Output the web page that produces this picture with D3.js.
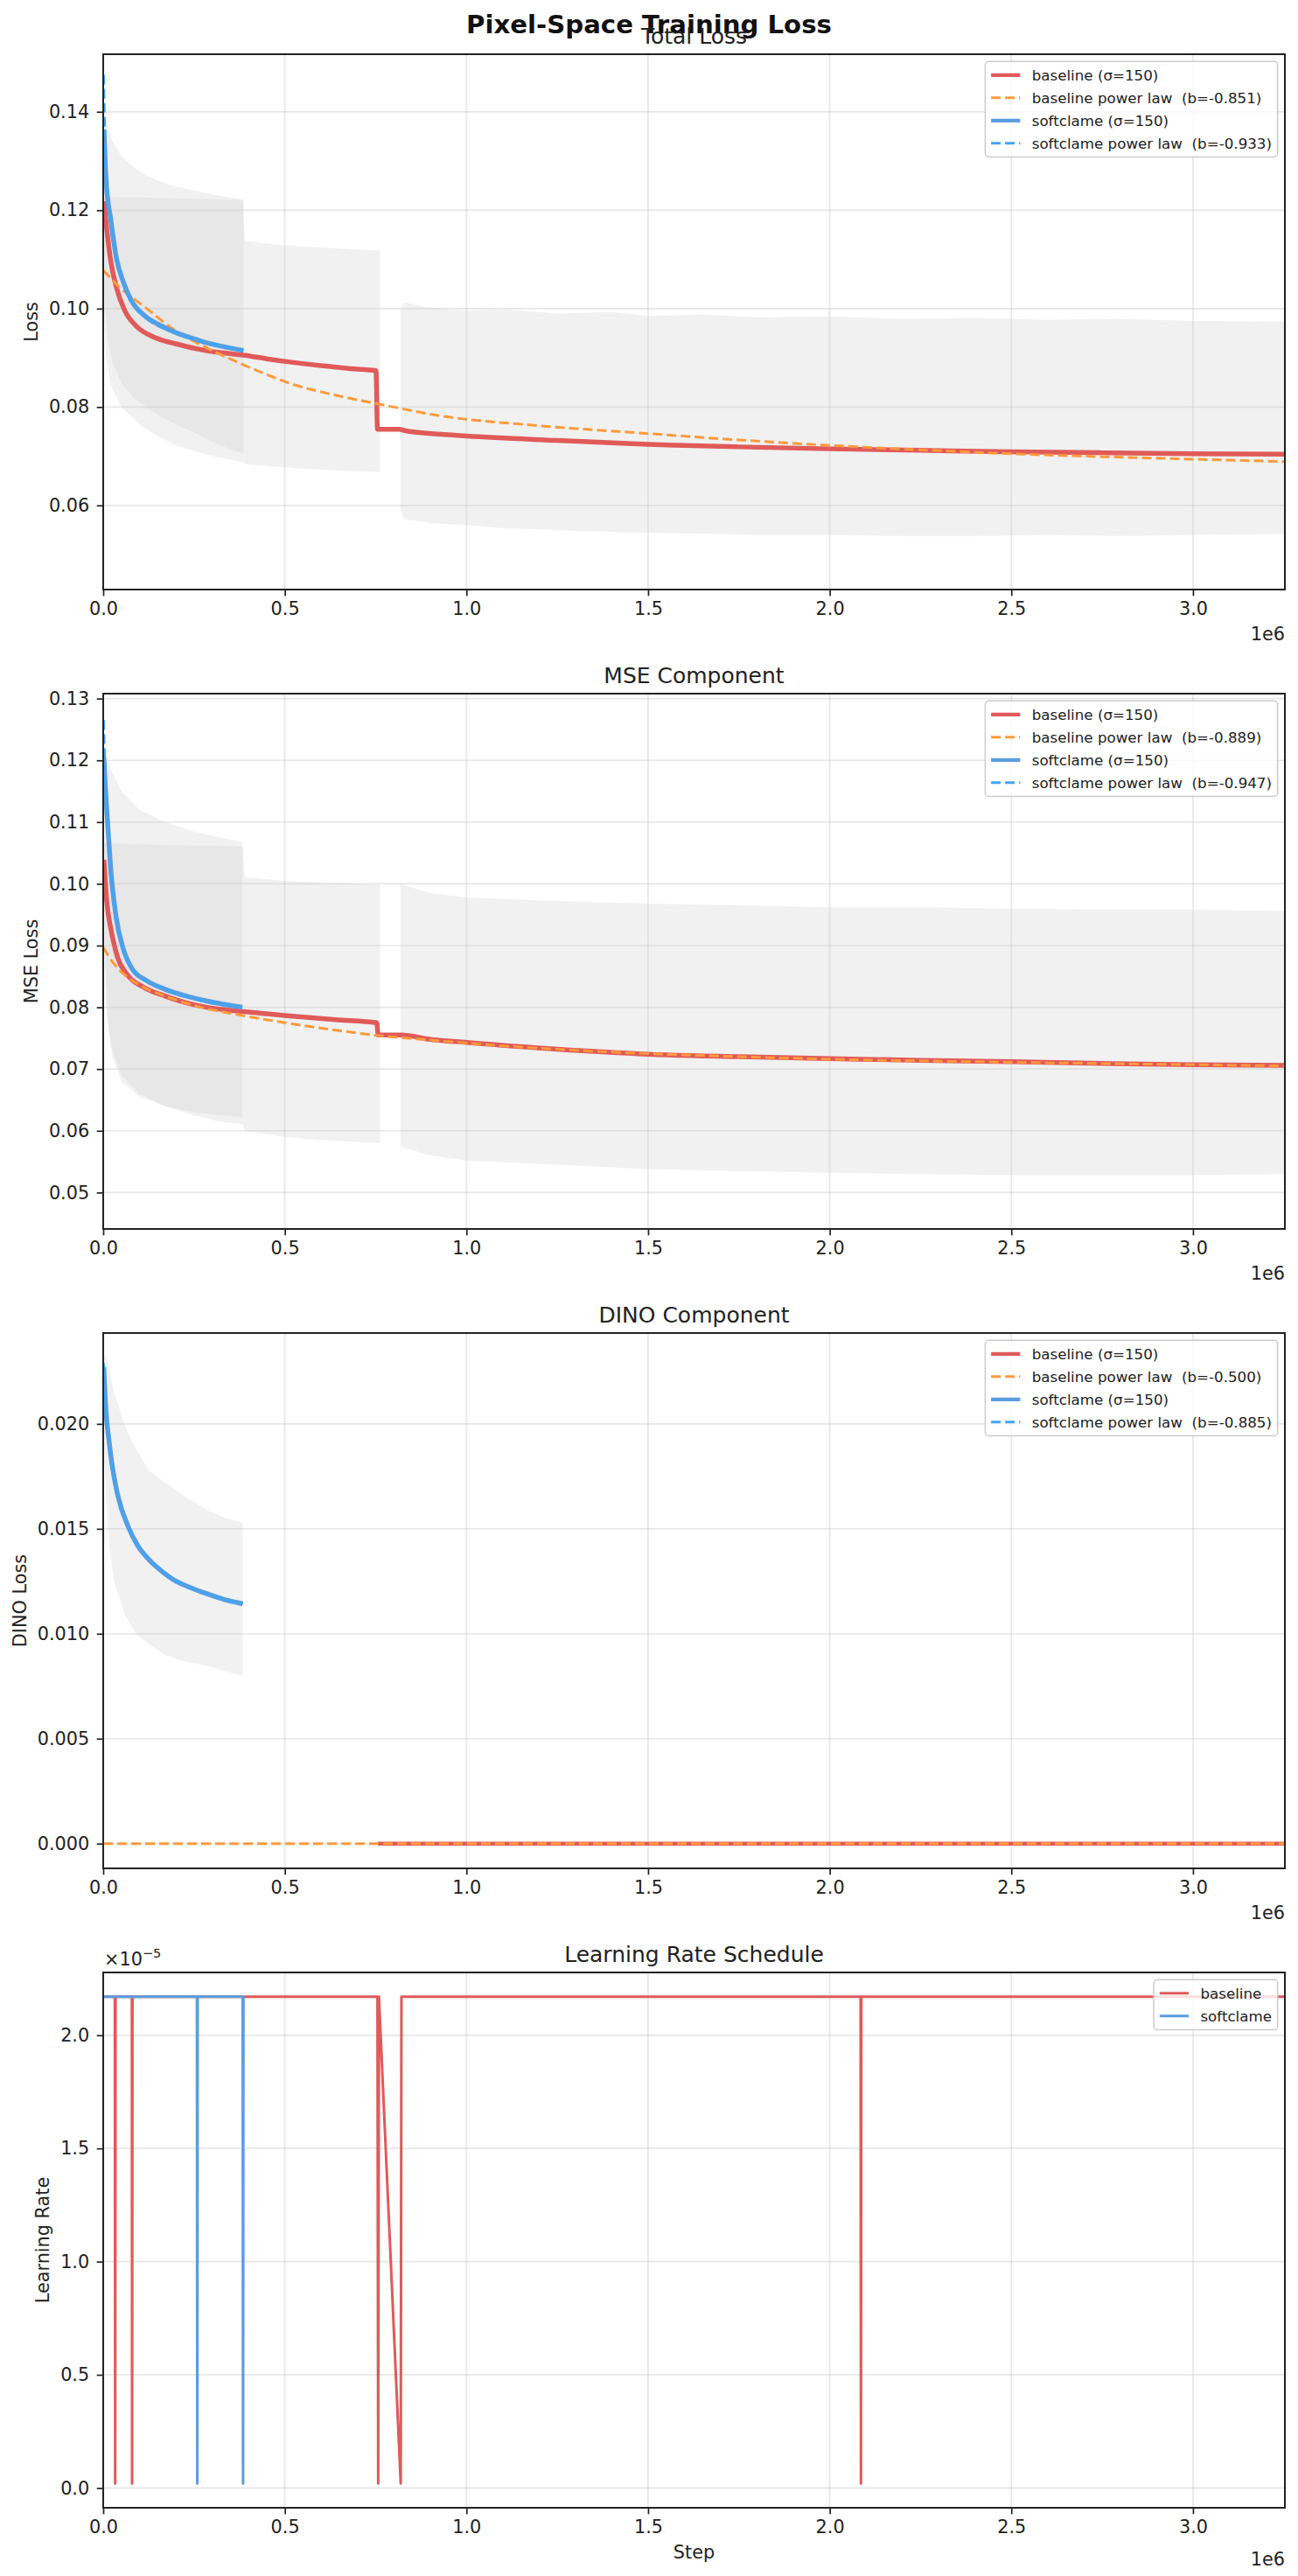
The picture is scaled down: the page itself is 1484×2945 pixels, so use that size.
<!DOCTYPE html>
<html lang="en">
<head>
    <meta charset="UTF-8">
    <title>Pixel-Space Training Loss</title>
    <script src="https://d3js.org/d3.v7.min.js"></script>
    <style>
        body {
            margin: 0;
            background: #fff;
            font-family: "DejaVu Sans", sans-serif;
        }
        .tick text {
            font-size: 20.8px;
            fill: #222;
            font-family: "DejaVu Sans", sans-serif;
        }
        .tick line {
            stroke: #222;
            stroke-width: 1.7px;
        }
        .grid line {
            stroke: #b0b0b0;
            stroke-opacity: 0.3;
            stroke-width: 1.7px;
        }
        .band {
            fill: #cccccc;
            fill-opacity: 0.28;
        }
        .axis-label {
            font-size: 20.8px;
            fill: #222;
        }
        .sub-title {
            font-size: 25px;
            fill: #222;
        }
        .legend text {
            font-size: 16.7px;
            fill: #222;
            white-space: pre;
        }
    </style>
</head>
<body>
    <div id="chart"></div>
    <script>
        // ---- data ----
        var xTickValues = [0, 500000, 1000000, 1500000, 2000000, 2500000, 3000000];
        var xDomain = [0, 3253000];

        var totalYDomain = [0.0429, 0.1517];
        var mseYDomain = [0.0441, 0.1308];
        var dinoYDomain = [-0.00118, 0.02433];
        var lrYDomain = [-0.0875e-5, 2.2775e-5];

        var totalYTicks = [0.06, 0.08, 0.10, 0.12, 0.14];
        var mseYTicks = [0.05, 0.06, 0.07, 0.08, 0.09, 0.10, 0.11, 0.12, 0.13];
        var dinoYTicks = [0, 0.005, 0.010, 0.015, 0.020];
        var lrYTicks = [0, 0.5e-5, 1.0e-5, 1.5e-5, 2.0e-5];

        var totalLegend = ["baseline (σ=150)", "baseline power law  (b=-0.851)", "softclame (σ=150)", "softclame power law  (b=-0.933)"];
        var mseLegend = ["baseline (σ=150)", "baseline power law  (b=-0.889)", "softclame (σ=150)", "softclame power law  (b=-0.947)"];
        var dinoLegend = ["baseline (σ=150)", "baseline power law  (b=-0.500)", "softclame (σ=150)", "softclame power law  (b=-0.885)"];
        var lrLegend = ["baseline", "softclame"];

        // raw-loss bands: [step, low, high]; null marks the logging gap
        var totalBaseBand = [
            [2000, 0.1000, 0.1225], [8000, 0.0900, 0.1228], [20000, 0.0845, 0.1227],
            [50000, 0.0800, 0.1226], [100000, 0.0765, 0.1226], [150000, 0.0740, 0.1225],
            [200000, 0.0722, 0.1224], [260000, 0.0708, 0.1223], [320000, 0.0697, 0.1222],
            [385000, 0.0688, 0.1220], [390000, 0.0684, 0.1138], [450000, 0.0680, 0.1132],
            [550000, 0.0675, 0.1126], [650000, 0.0671, 0.1122], [762000, 0.0668, 0.1118],
            [763000, null, null],
            [818000, 0.0590, 0.1000], [830000, 0.0572, 0.1012], [900000, 0.0564, 0.1002],
            [1000000, 0.0560, 0.0996], [1100000, 0.0554, 0.0999], [1250000, 0.0550, 0.0990],
            [1400000, 0.0546, 0.0993], [1500000, 0.0544, 0.0985], [1650000, 0.0543, 0.0988],
            [1800000, 0.0540, 0.0982], [2000000, 0.0540, 0.0984], [2200000, 0.0538, 0.0979],
            [2400000, 0.0538, 0.0981], [2600000, 0.0540, 0.0977], [2800000, 0.0538, 0.0979],
            [3000000, 0.0540, 0.0975], [3253000, 0.0542, 0.0974]
        ];
        var totalSoftBand = [
            [1000, 0.1180, 0.1395], [5000, 0.1010, 0.1390], [12000, 0.0940, 0.1370],
            [25000, 0.0890, 0.1340], [50000, 0.0850, 0.1310], [80000, 0.0822, 0.1290],
            [120000, 0.0798, 0.1270], [160000, 0.0780, 0.1258], [200000, 0.0765, 0.1248],
            [250000, 0.0748, 0.1240], [300000, 0.0730, 0.1232], [350000, 0.0714, 0.1226],
            [386000, 0.0705, 0.1222]
        ];
        var mseBaseBand = [
            [2000, 0.0900, 0.1065], [8000, 0.0800, 0.1066], [20000, 0.0740, 0.1066],
            [50000, 0.0690, 0.1065], [100000, 0.0660, 0.1064], [170000, 0.0640, 0.1063],
            [250000, 0.0625, 0.1062], [320000, 0.0615, 0.1062], [385000, 0.0610, 0.1060],
            [390000, 0.0600, 0.1010], [500000, 0.0590, 0.1005], [600000, 0.0585, 0.1002],
            [700000, 0.0582, 0.1000], [762000, 0.0580, 0.0998],
            [763000, null, null],
            [818000, 0.0575, 0.1000], [900000, 0.0560, 0.0985], [1000000, 0.0552, 0.0978],
            [1250000, 0.0545, 0.0972], [1500000, 0.0538, 0.0968], [1750000, 0.0535, 0.0965],
            [2000000, 0.0532, 0.0962], [2250000, 0.0530, 0.0962], [2500000, 0.0528, 0.0960],
            [2750000, 0.0528, 0.0958], [3000000, 0.0528, 0.0958], [3253000, 0.0530, 0.0956]
        ];
        var mseSoftBand = [
            [1000, 0.1050, 0.1215], [5000, 0.0900, 0.1215], [12000, 0.0780, 0.1200],
            [25000, 0.0720, 0.1180], [50000, 0.0680, 0.1150], [100000, 0.0655, 0.1120],
            [170000, 0.0640, 0.1100], [250000, 0.0630, 0.1085], [320000, 0.0625, 0.1075],
            [383000, 0.0622, 0.1068]
        ];
        var dinoSoftBand = [
            [1000, 0.0195, 0.0233], [8000, 0.0165, 0.0232], [18000, 0.0140, 0.0225],
            [30000, 0.0125, 0.0215], [60000, 0.0109, 0.0199], [90000, 0.0100, 0.0188],
            [126000, 0.0095, 0.0178], [170000, 0.0090, 0.0172], [220000, 0.0087, 0.0166],
            [286000, 0.00846, 0.0159], [340000, 0.0082, 0.0155], [384000, 0.0080, 0.0153]
        ];

        // smoothed curves: [step, value]
        var totalBaseline = [
            [2000, 0.1218], [10000, 0.1160], [20000, 0.1100], [36000, 0.1044], [60000, 0.0995],
            [93000, 0.0963], [140000, 0.0942], [197000, 0.0929], [280000, 0.0915], [390000, 0.0905],
            [450000, 0.0898], [518000, 0.0891], [600000, 0.0884], [680000, 0.0878], [751000, 0.0874],
            [755000, 0.0755], [815000, 0.0755], [830000, 0.0752], [920000, 0.0745], [1000000, 0.0741],
            [1250000, 0.0732], [1500000, 0.0724], [1750000, 0.0719], [2000000, 0.0715], [2250000, 0.0712],
            [2500000, 0.0709], [2750000, 0.0707], [3000000, 0.0705], [3253000, 0.0704]
        ];
        var totalBaselineFit = [
            [0, 0.1078], [50000, 0.1040], [115000, 0.1003], [197000, 0.0956], [280000, 0.0922],
            [358000, 0.0895], [440000, 0.0869], [518000, 0.0847], [640000, 0.0824], [759000, 0.0806],
            [920000, 0.0783], [1200000, 0.0762], [1500000, 0.0746], [1750000, 0.0733], [2000000, 0.0722],
            [2250000, 0.0713], [2500000, 0.0705], [2750000, 0.0699], [3000000, 0.0694], [3253000, 0.0689]
        ];
        var totalSoftclame = [
            [2000, 0.1364], [8000, 0.1260], [21000, 0.1180], [37000, 0.1100], [55000, 0.1055],
            [77000, 0.1017], [117000, 0.0984], [160000, 0.0965], [197000, 0.0952], [240000, 0.0941],
            [278000, 0.0932], [330000, 0.0923], [386000, 0.0915]
        ];
        var totalSoftclameFit = [
            [1000, 0.1475], [3000, 0.1400], [8000, 0.1280], [20000, 0.1175], [40000, 0.1090],
            [77000, 0.1015], [120000, 0.0980], [200000, 0.0951], [280000, 0.0932], [386000, 0.0914]
        ];

        var mseBaseline = [
            [2000, 0.1039], [10000, 0.0970], [20000, 0.0930], [35000, 0.0890], [69000, 0.0851],
            [110000, 0.0833], [171000, 0.0818], [230000, 0.0807], [286000, 0.0800], [388000, 0.0793],
            [514000, 0.0786], [640000, 0.0780], [753000, 0.0775], [757000, 0.0755], [820000, 0.0755],
            [900000, 0.0748], [1000000, 0.0743], [1250000, 0.0732], [1500000, 0.0724], [1750000, 0.0720],
            [2000000, 0.0717], [2250000, 0.0714], [2500000, 0.0712], [2750000, 0.0709], [3000000, 0.0707],
            [3253000, 0.0706]
        ];
        var mseBaselineFit = [
            [0, 0.0897], [30000, 0.0870], [60000, 0.0852], [100000, 0.0836], [171000, 0.0818],
            [250000, 0.0803], [390000, 0.0786], [500000, 0.0775], [640000, 0.0763], [760000, 0.0754],
            [900000, 0.0747], [1000000, 0.0742], [1250000, 0.0732], [1500000, 0.0725], [1750000, 0.0720],
            [2000000, 0.0716], [2500000, 0.0711], [3000000, 0.0707], [3253000, 0.0705]
        ];
        var mseSoftclame = [
            [1500, 0.1205], [6000, 0.1155], [12000, 0.1100], [22000, 0.1015], [35000, 0.0948],
            [55000, 0.0895], [80000, 0.0862], [120000, 0.0843], [171000, 0.0829], [230000, 0.0818],
            [286000, 0.0810], [340000, 0.0804], [383000, 0.0800]
        ];
        var mseSoftclameFit = [
            [1000, 0.1265], [3000, 0.1220], [8000, 0.1140], [15000, 0.1070], [35000, 0.0948],
            [80000, 0.0862], [171000, 0.0829], [286000, 0.0810], [383000, 0.0800]
        ];

        var dinoBaseline = [[756000, 0], [3253000, 0]];
        var dinoBaselineFit = [[0, 0], [3253000, 0]];
        var dinoSoftclame = [
            [1500, 0.0227], [8000, 0.0205], [16000, 0.0192], [24000, 0.0181], [40000, 0.0166],
            [69000, 0.0151], [95000, 0.0142], [126000, 0.01353], [160000, 0.0130], [194000, 0.01257],
            [240000, 0.0122], [286000, 0.0119], [340000, 0.0116], [384000, 0.01143]
        ];
        var dinoSoftclameFit = [
            [1000, 0.0229], [8000, 0.0204], [16000, 0.0191], [24000, 0.0180], [40000, 0.0166],
            [69000, 0.0151], [95000, 0.0142], [126000, 0.01355], [160000, 0.0130], [194000, 0.01258],
            [240000, 0.0122], [286000, 0.0119], [340000, 0.0116], [384000, 0.01144]
        ];

        var lrBaseline = [
            [0, 2.17e-5], [32000, 2.17e-5], [33000, 0.02e-5], [34000, 2.17e-5], [79000, 2.17e-5],
            [79500, 0.02e-5], [80500, 2.17e-5], [755000, 2.17e-5], [757000, 0.02e-5], [759000, 2.17e-5],
            [819000, 0.02e-5], [821000, 2.17e-5], [2085000, 2.17e-5], [2086000, 0.02e-5], [2087000, 2.17e-5],
            [3253000, 2.17e-5]
        ];
        var lrSoftclame = [
            [0, 2.17e-5], [258000, 2.17e-5], [259000, 0.02e-5], [260000, 2.17e-5], [384000, 2.17e-5],
            [385000, 0.02e-5], [386000, 2.17e-5]
        ];

        // ---- styling ----
        var RED = "#e05a5a", ORANGE = "#ff9a3c", BLUE = "#5a9de0", LBLUE = "#42a5f5";
        var left = 118, right = 1469, panelH = 612;
        var tops = [62, 793, 1524, 2255];

        var panels = [
            {
                title: "Total Loss", ylabel: "Loss", yDomain: totalYDomain, yTicks: totalYTicks,
                fmt: function(d) { return d.toFixed(2); },
                bands: [totalBaseBand, totalSoftBand],
                lines: [
                    { data: totalBaseline, color: RED, width: 5.5 },
                    { data: totalBaselineFit, color: ORANGE, width: 3, dash: "11,5" },
                    { data: totalSoftclame, color: BLUE, width: 5.5 },
                    { data: totalSoftclameFit, color: LBLUE, width: 3, dash: "11,5" }
                ],
                legend: totalLegend
            },
            {
                title: "MSE Component", ylabel: "MSE Loss", yDomain: mseYDomain, yTicks: mseYTicks,
                fmt: function(d) { return d.toFixed(2); },
                bands: [mseBaseBand, mseSoftBand],
                lines: [
                    { data: mseBaseline, color: RED, width: 5.5 },
                    { data: mseBaselineFit, color: ORANGE, width: 3, dash: "11,5" },
                    { data: mseSoftclame, color: BLUE, width: 5.5 },
                    { data: mseSoftclameFit, color: LBLUE, width: 3, dash: "11,5" }
                ],
                legend: mseLegend
            },
            {
                title: "DINO Component", ylabel: "DINO Loss", yDomain: dinoYDomain, yTicks: dinoYTicks,
                fmt: function(d) { return d.toFixed(3); },
                bands: [dinoSoftBand],
                lines: [
                    { data: dinoBaseline, color: RED, width: 4.5 },
                    { data: dinoBaselineFit, color: ORANGE, width: 3, dash: "11,5" },
                    { data: dinoSoftclame, color: BLUE, width: 5.5 },
                    { data: dinoSoftclameFit, color: LBLUE, width: 3, dash: "11,5" }
                ],
                legend: dinoLegend
            },
            {
                title: "Learning Rate Schedule", ylabel: "Learning Rate", yDomain: lrYDomain, yTicks: lrYTicks,
                fmt: function(d) { return (d / 1e-5).toFixed(1); },
                bands: [],
                lines: [
                    { data: lrBaseline, color: RED, width: 3 },
                    { data: lrSoftclame, color: BLUE, width: 3 }
                ],
                legend: lrLegend,
                xlabel: "Step",
                yOffsetText: true,
                straight: true
            }
        ];

        var svg = d3.select("#chart").append("svg")
            .attr("width", 1484)
            .attr("height", 2945)
            .style("display", "block");

        svg.append("text")
            .attr("x", 742)
            .attr("y", 38)
            .attr("text-anchor", "middle")
            .style("font-size", "29.2px")
            .style("font-weight", "bold")
            .style("fill", "#111")
            .text("Pixel-Space Training Loss");

        var x = d3.scaleLinear().domain(xDomain).range([left, right]);

        panels.forEach(function(p, pi) {
            var top = tops[pi], bottom = top + panelH;
            var y = d3.scaleLinear().domain(p.yDomain).range([bottom, top]);
            var g = svg.append("g");

            var clipId = "clip" + pi;
            svg.append("clipPath").attr("id", clipId)
                .append("rect")
                .attr("x", left).attr("y", top)
                .attr("width", right - left).attr("height", panelH);

            // grid
            var grid = g.append("g").attr("class", "grid");
            grid.selectAll(".gx").data(xTickValues).enter().append("line")
                .attr("x1", function(d) { return x(d); })
                .attr("x2", function(d) { return x(d); })
                .attr("y1", top).attr("y2", bottom);
            grid.selectAll(".gy").data(p.yTicks).enter().append("line")
                .attr("x1", left).attr("x2", right)
                .attr("y1", function(d) { return y(d); })
                .attr("y2", function(d) { return y(d); });

            var plot = g.append("g").attr("clip-path", "url(#" + clipId + ")");

            var area = d3.area()
                .defined(function(d) { return d[1] !== null; })
                .x(function(d) { return x(d[0]); })
                .y0(function(d) { return y(d[1]); })
                .y1(function(d) { return y(d[2]); });
            p.bands.forEach(function(b) {
                plot.append("path").attr("class", "band").attr("d", area(b));
            });

            var line = d3.line()
                .x(function(d) { return x(d[0]); })
                .y(function(d) { return y(d[1]); })
                .curve(p.straight ? d3.curveLinear : d3.curveMonotoneX);
            p.lines.forEach(function(l) {
                plot.append("path")
                    .attr("d", line(l.data))
                    .attr("fill", "none")
                    .attr("stroke", l.color)
                    .attr("stroke-width", l.width)
                    .attr("stroke-linejoin", "round")
                    .attr("stroke-dasharray", l.dash || null);
            });

            // axes
            var xAxis = d3.axisBottom(x).tickValues(xTickValues)
                .tickSize(7.3).tickPadding(7.3)
                .tickFormat(function(d) { return (d / 1e6).toFixed(1); });
            var gx = g.append("g").attr("transform", "translate(0," + bottom + ")").call(xAxis);
            gx.select(".domain").remove();

            var yAxis = d3.axisLeft(y).tickValues(p.yTicks)
                .tickSize(7.3).tickPadding(8.5)
                .tickFormat(p.fmt);
            var gy = g.append("g").attr("transform", "translate(" + left + ",0)").call(yAxis);
            gy.select(".domain").remove();

            // frame
            g.append("rect")
                .attr("x", left).attr("y", top)
                .attr("width", right - left).attr("height", panelH)
                .attr("fill", "none")
                .attr("stroke", "#222")
                .attr("stroke-width", 2);

            // titles and labels
            g.append("text").attr("class", "sub-title")
                .attr("x", (left + right) / 2).attr("y", top - 12.5)
                .attr("text-anchor", "middle")
                .text(p.title);

            var tickLeft = d3.min(gy.selectAll("text").nodes(), function(n) { return n.getBBox().x; });
            var ylx = left + tickLeft - 8.3 - 4.5;
            g.append("text").attr("class", "axis-label")
                .attr("transform", "translate(" + ylx + "," + (top + panelH / 2) + ") rotate(-90)")
                .attr("text-anchor", "middle")
                .text(p.ylabel);

            g.append("text").attr("class", "axis-label")
                .attr("x", right).attr("y", bottom + (p.xlabel ? 66 : 58))
                .attr("text-anchor", "end")
                .text("1e6");

            if (p.xlabel) {
                g.append("text").attr("class", "axis-label")
                    .attr("x", (left + right) / 2).attr("y", bottom + 58)
                    .attr("text-anchor", "middle")
                    .text(p.xlabel);
            }
            if (p.yOffsetText) {
                var ot = g.append("text").attr("class", "axis-label")
                    .attr("x", left + 1).attr("y", top - 8);
                ot.append("tspan").text("×10");
                ot.append("tspan").attr("dy", -9).style("font-size", "14.5px").text("−5");
            }

            // legend
            var lg = g.append("g").attr("class", "legend");
            var rowH = 26, pad = 6.7, handle = 33.3, gap = 13.3;
            var frame = lg.append("rect");
            var texts = [];
            p.legend.forEach(function(lab) {
                texts.push(lg.append("text").attr("dy", "0.35em").text(lab));
            });
            var tw = d3.max(texts, function(t) { return t.node().getComputedTextLength(); });
            var fw = pad + handle + gap + tw + pad;
            var fh = 2 * pad + p.legend.length * 17.7 + (p.legend.length - 1) * 8.3;
            var fx = right - 8.3 - fw, fy = top + 8.3;
            frame.attr("x", fx).attr("y", fy).attr("width", fw).attr("height", fh)
                .attr("rx", 4).attr("fill", "#fff").attr("fill-opacity", 0.8)
                .attr("stroke", "#cccccc").attr("stroke-width", 1.5);
            p.legend.forEach(function(lab, i) {
                var cy = fy + pad + 8.85 + i * rowH;
                var l = p.lines[i];
                lg.append("line")
                    .attr("x1", fx + pad).attr("x2", fx + pad + handle)
                    .attr("y1", cy).attr("y2", cy)
                    .attr("stroke", l.color)
                    .attr("stroke-width", l.dash ? 3 : (p.straight ? 3 : 4.2))
                    .attr("stroke-dasharray", l.dash || null);
                texts[i].attr("x", fx + pad + handle + gap).attr("y", cy);
            });
        });
    </script>
</body>
</html>
